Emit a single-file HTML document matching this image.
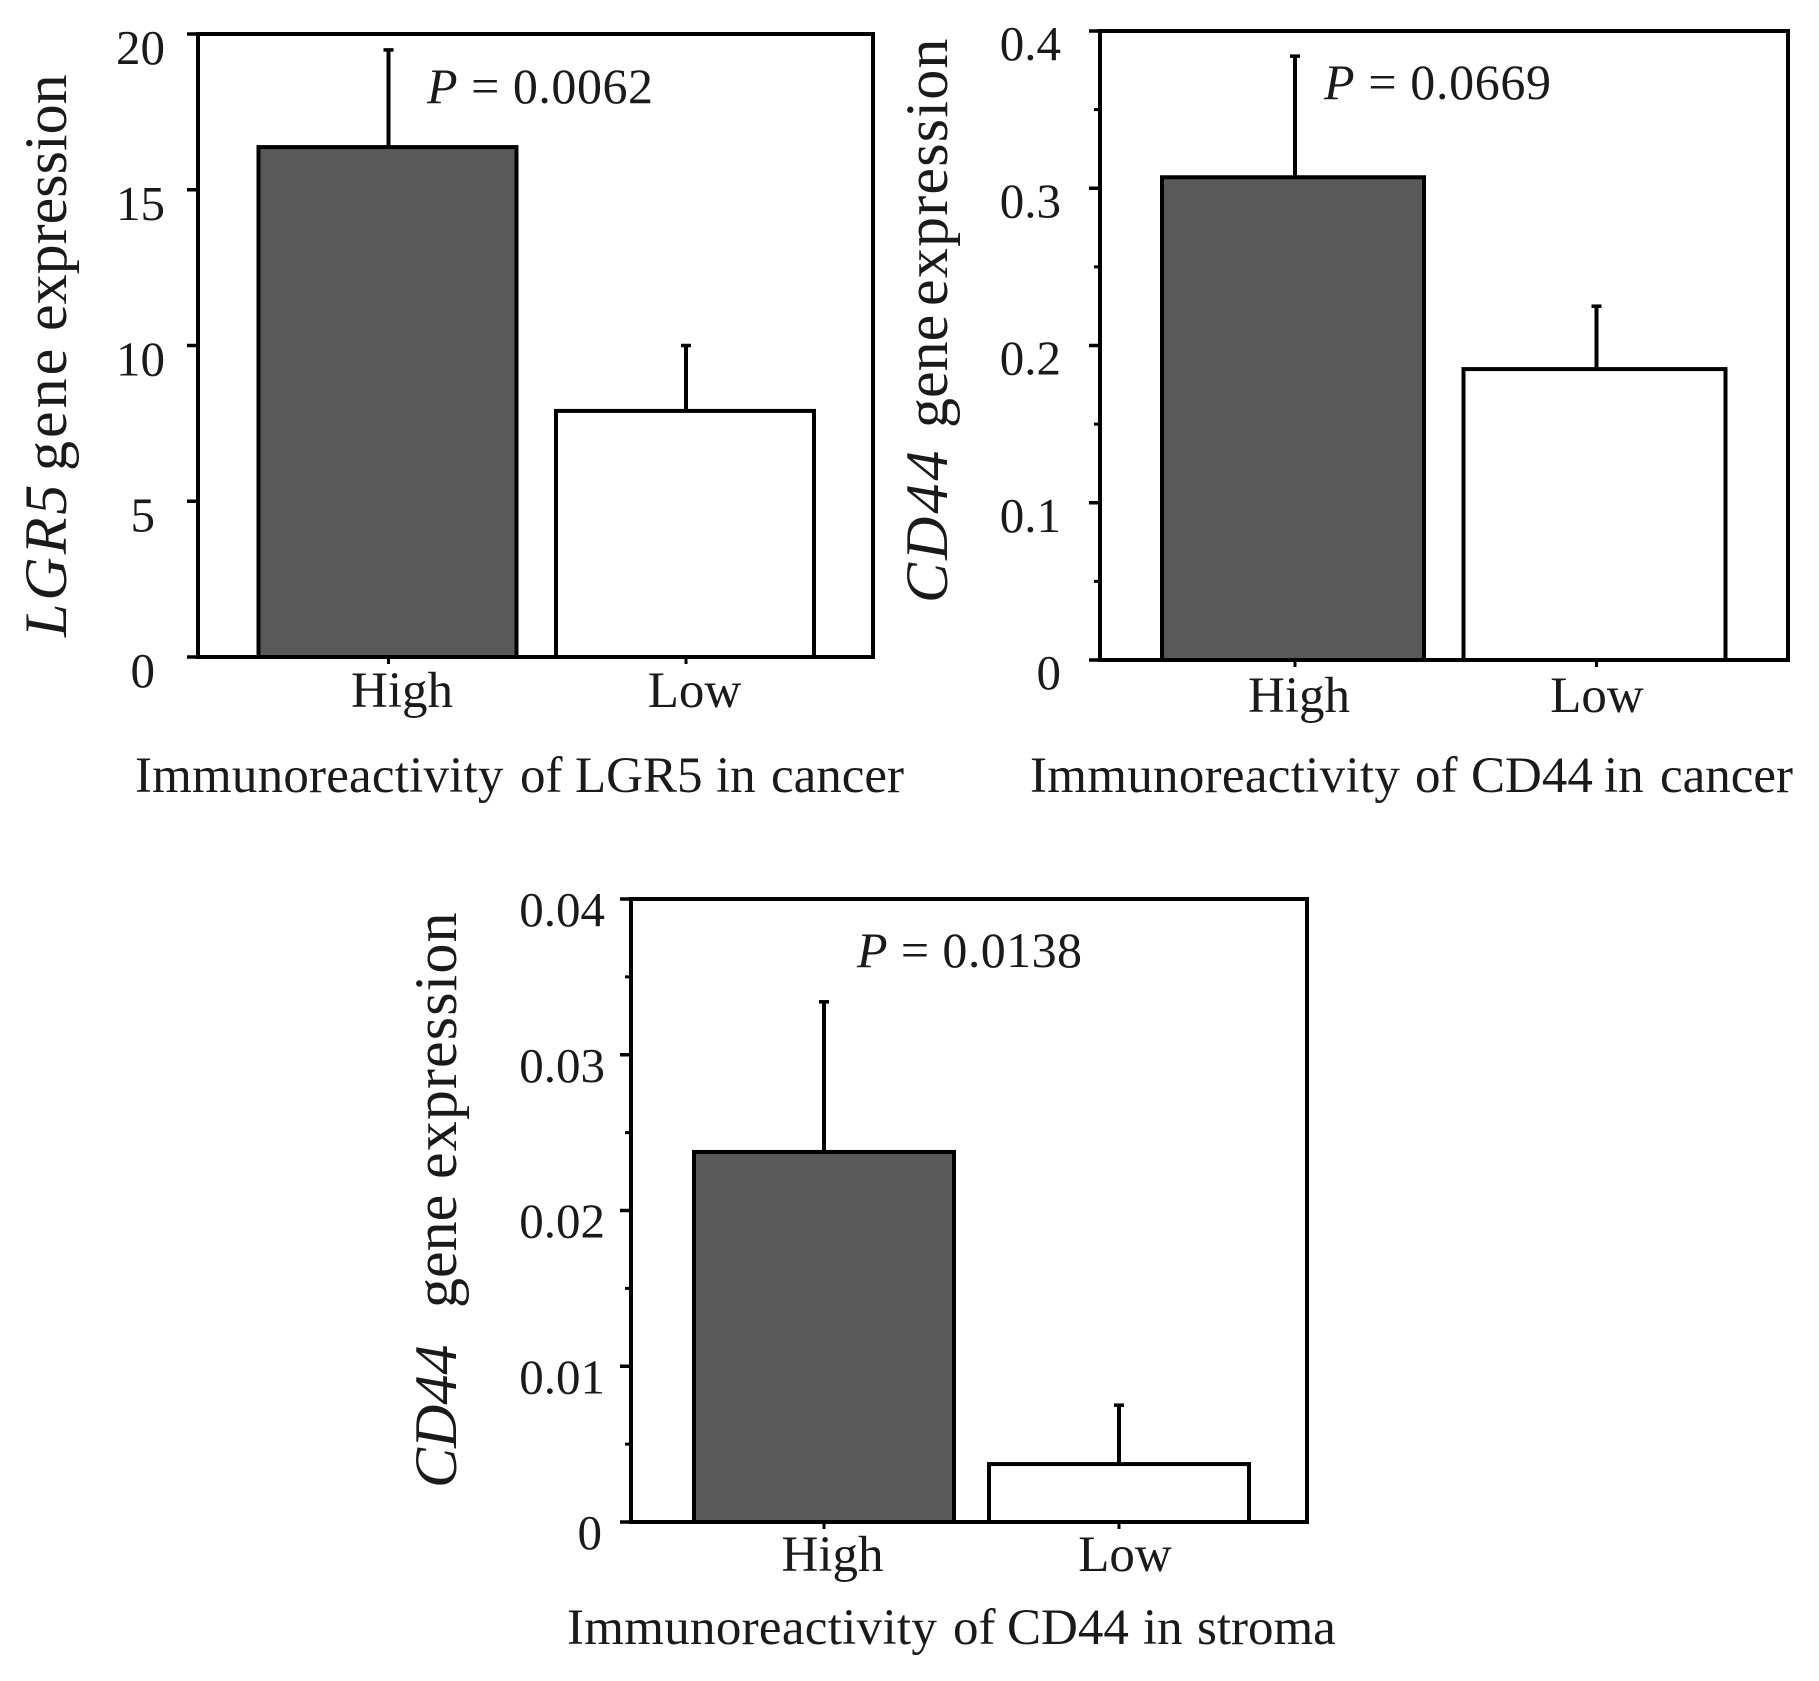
<!DOCTYPE html>
<html lang="en">
<head>
<meta charset="utf-8">
<title>Gene expression by immunoreactivity</title>
<style>
html,body{margin:0;padding:0;background:#fff}
#figure{display:block;width:1819px;height:1681px}
text{font-family:"Liberation Serif",serif;fill:#1a1a1a}
.tick-label{font-size:49px}
.cat-label{font-size:51px}
.x-title{font-size:51px}
.y-title{font-size:60px}
.p-text{font-size:50px}
</style>
</head>
<body>
<svg id="figure" xmlns="http://www.w3.org/2000/svg" width="1819" height="1681" viewBox="0 0 1819 1681">
  <rect x="0" y="0" width="1819" height="1681" fill="#fff"/>

  <g id="chart-a">
    <text class="y-title" transform="translate(66,637) rotate(-90)"><tspan x="0" font-style="italic" letter-spacing="3">LGR5</tspan> <tspan x="166" letter-spacing="3">gene</tspan> <tspan x="306">expression</tspan></text>
    <text class="x-title" y="792"><tspan x="135" letter-spacing="0.2">Immunoreactivity</tspan> <tspan x="520">of</tspan> <tspan x="575">LGR5</tspan> <tspan x="716">in</tspan> <tspan x="771">cancer</tspan></text>
    <text class="p-text" x="427" y="103" textLength="226" lengthAdjust="spacing"><tspan font-style="italic">P</tspan> = 0.0062</text>
  </g>

  <g id="chart-b">
    <text class="y-title" transform="translate(947,603) rotate(-90)"><tspan x="0" font-style="italic" letter-spacing="3">CD44</tspan> <tspan x="175">gene</tspan> <tspan x="297" letter-spacing="1.2">expression</tspan></text>
    <text class="x-title" y="792"><tspan x="1030" letter-spacing="0.3">Immunoreactivity</tspan> <tspan x="1415">of</tspan> <tspan x="1471">CD44</tspan> <tspan x="1604">in</tspan> <tspan x="1660">cancer</tspan></text>
    <text class="p-text" x="1324" y="99" textLength="227" lengthAdjust="spacing"><tspan font-style="italic">P</tspan> = 0.0669</text>
  </g>

  <g id="chart-c">
    <text class="y-title" transform="translate(456,1488) rotate(-90)"><tspan x="0" font-style="italic">CD44</tspan> <tspan x="180">gene</tspan> <tspan x="309" letter-spacing="1.1">expression</tspan></text>
    <text class="x-title" y="1644"><tspan x="567" letter-spacing="0.3">Immunoreactivity</tspan> <tspan x="953">of</tspan> <tspan x="1007">CD44</tspan> <tspan x="1143">in</tspan> <tspan x="1197">stroma</tspan></text>
    <text class="p-text" x="857" y="967" textLength="225" lengthAdjust="spacing"><tspan font-style="italic">P</tspan> = 0.0138</text>
  </g>
</svg>

<script>
var categories = ['High', 'Low'];

var lgr5Means = [16.37, 7.9];
var lgr5Upper = [19.49, 10.0];
var lgr5Ticks = [0, 5, 10, 15, 20];
var lgr5TickLabels = ['0', '5', '10', '15', '20'];
var lgr5MinorTicks = [];

var cd44CancerMeans = [0.307, 0.185];
var cd44CancerUpper = [0.384, 0.225];
var cd44CancerTicks = [0, 0.1, 0.2, 0.3, 0.4];
var cd44CancerTickLabels = ['0', '0.1', '0.2', '0.3', '0.4'];
var cd44CancerMinorTicks = [0.05, 0.15, 0.25, 0.35];

var cd44StromaMeans = [0.02376, 0.00372];
var cd44StromaUpper = [0.0334, 0.0075];
var cd44StromaTicks = [0, 0.01, 0.02, 0.03, 0.04];
var cd44StromaTickLabels = ['0', '0.01', '0.02', '0.03', '0.04'];
var cd44StromaMinorTicks = [0.005, 0.015, 0.025, 0.035];

var SVGNS = 'http://www.w3.org/2000/svg';

function make(parent, tag, attrs) {
  var el = document.createElementNS(SVGNS, tag);
  for (var k in attrs) { el.setAttribute(k, attrs[k]); }
  parent.appendChild(el);
  return el;
}

function drawChart(cfg) {
  var g = document.getElementById(cfg.id);
  var yMax = cfg.ticks[cfg.ticks.length - 1];
  function yScale(v) { return cfg.bottom - (v / yMax) * (cfg.bottom - cfg.top); }
  function xScale(i) { return cfg.firstCenter + i * cfg.step; }
  function labelX(i) { return cfg.catFirst + i * cfg.catStep; }

  var el;

  // bars and error bars
  categories.forEach(function (name, i) {
    var cx = xScale(i);
    var yTop = yScale(cfg.means[i]);
    var yErr = yScale(cfg.upper[i]);
    var ex = cx + cfg.errShift;

    el = make(g, 'line', {x1: ex, x2: ex, y1: yTop, y2: yErr, stroke: '#000', 'stroke-width': 4});
    
    

    el = make(g, 'line', {x1: ex - 5, x2: ex + 5, y1: yErr, y2: yErr, stroke: '#000', 'stroke-width': 3.5});
    
    

    el = make(g, 'rect', {
      x: cx - cfg.barWidth / 2,
      y: yTop,
      width: cfg.barWidth,
      height: cfg.bottom - yTop,
      fill: i === 0 ? '#595959' : '#ffffff',
      stroke: '#000',
      'stroke-width': 4
    });
    
    

    el = make(g, 'line', {x1: ex, x2: ex, y1: cfg.bottom, y2: cfg.bottom + 7, stroke: '#000', 'stroke-width': 3});
    
    

    el = make(g, 'text', {x: labelX(i), y: cfg.catBaseline, 'text-anchor': 'middle', 'class': 'cat-label'});
    el.textContent = name;
    
    
  });

  // frame
  el = make(g, 'rect', {
    x: cfg.left, y: cfg.top,
    width: cfg.right - cfg.left, height: cfg.bottom - cfg.top,
    fill: 'none', stroke: '#000', 'stroke-width': 4
  });
  
  

  // major ticks and labels
  cfg.ticks.forEach(function (t, i) {
    var label = cfg.tickLabels[i];
    var right = label.length === 1 ? cfg.labelRight - cfg.singleDigitInset : cfg.labelRight;

    el = make(g, 'line', {x1: cfg.left - 11, x2: cfg.left, y1: yScale(t), y2: yScale(t), stroke: '#000', 'stroke-width': 3.5});
    
    

    el = make(g, 'text', {x: right, y: yScale(t) + cfg.labelDrop, 'text-anchor': 'end', 'class': 'tick-label'});
    el.textContent = label;
    
    
  });

  // minor ticks
  cfg.minor.forEach(function (t) {
    el = make(g, 'line', {x1: cfg.left - 6, x2: cfg.left, y1: yScale(t), y2: yScale(t), stroke: '#000', 'stroke-width': 3});
    
    
  });
}

drawChart({
  id: 'chart-a',
  left: 198, right: 873, top: 34, bottom: 657,
  firstCenter: 387.5, step: 297.5, barWidth: 258, errShift: 1,
  catFirst: 402, catStep: 292.5, catBaseline: 707,
  labelRight: 165, singleDigitInset: 10, labelDrop: 30,
  means: lgr5Means, upper: lgr5Upper, ticks: lgr5Ticks, tickLabels: lgr5TickLabels, minor: lgr5MinorTicks
});

drawChart({
  id: 'chart-b',
  left: 1100, right: 1788, top: 31, bottom: 660,
  firstCenter: 1293, step: 301.5, barWidth: 262, errShift: 2,
  catFirst: 1299, catStep: 298, catBaseline: 712,
  labelRight: 1061, singleDigitInset: 0, labelDrop: 29,
  means: cd44CancerMeans, upper: cd44CancerUpper, ticks: cd44CancerTicks, tickLabels: cd44CancerTickLabels, minor: cd44CancerMinorTicks
});

drawChart({
  id: 'chart-c',
  left: 631, right: 1307, top: 899, bottom: 1522,
  firstCenter: 824, step: 295, barWidth: 260, errShift: 0,
  catFirst: 832.5, catStep: 292.5, catBaseline: 1571,
  labelRight: 605, singleDigitInset: 3, labelDrop: 27,
  means: cd44StromaMeans, upper: cd44StromaUpper, ticks: cd44StromaTicks, tickLabels: cd44StromaTickLabels, minor: cd44StromaMinorTicks
});
</script>
</body>
</html>
